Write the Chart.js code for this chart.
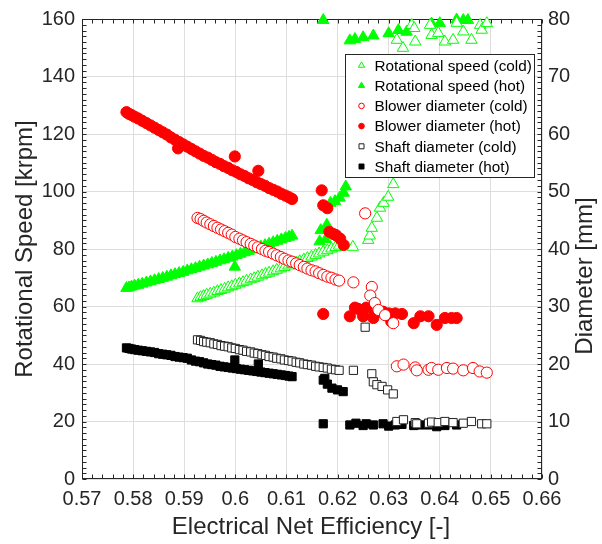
<!DOCTYPE html>
<html><head><meta charset="utf-8">
<script src="https://cdn.jsdelivr.net/npm/chart.js@4.4.1/dist/chart.umd.min.js"></script>
<style>html,body{margin:0;padding:0;background:#fff}#wrap{width:602px;height:544px;position:relative}</style>
</head><body><div id="wrap"><canvas id="c" width="602" height="544"></canvas></div>
<script>
// ---------- DATA ----------
// shared x of the main "hot" line (electrical net efficiency)
const hotLineX = [0.5787,0.5792,0.5797,0.5803,0.5810,0.5818,0.5826,0.5834,0.5842,0.5850,0.5858,0.5866,0.5874,0.5882,0.5890,0.5898,0.5906,0.5914,0.5922,0.5930,0.5938,0.5946,0.5954,0.5962,0.5970,0.5978,0.5986,0.5994,0.6002,0.6010,0.6018,0.6026,0.6034,0.6042,0.6050,0.6058,0.6066,0.6074,0.6082,0.6090,0.6098,0.6105,0.6111];
// shared x of the main "cold" line
const coldLineX = [0.5926,0.5932,0.5938,0.5944,0.5951,0.5958,0.5965,0.5972,0.5979,0.5986,0.5993,0.6000,0.6008,0.6015,0.6022,0.6030,0.6037,0.6044,0.6052,0.6059,0.6066,0.6074,0.6081,0.6089,0.6096,0.6104,0.6111,0.6119,0.6126,0.6134,0.6141,0.6149,0.6157,0.6164,0.6172,0.6180,0.6188,0.6196,0.6203];

// Rotational speed (cold) [krpm]
const speedColdLineY = [62.8,63.2,63.6,64.0,64.4,64.8,65.3,65.7,66.1,66.6,67.0,67.5,68.0,68.4,68.9,69.4,69.8,70.3,70.8,71.3,71.7,72.2,72.7,73.2,73.7,74.2,74.7,75.2,75.7,76.3,76.8,77.3,77.9,78.4,79.0,79.5,80.1,80.6,81.1];
const speedColdExtraX = [0.6230,0.6260,0.6263,0.6267,0.6277,0.6283,0.6290,0.6299,0.6309,0.6316,0.6328,0.6345,0.6350,0.6352,0.6381,0.6384,0.6397,0.6410,0.6426,0.6433,0.6446,0.6462,0.6479,0.6482,0.6492];
const speedColdExtraY = [80.7,83.1,84.6,87.3,90.8,94.3,96.0,98.1,102.5,152.7,149.9,157.9,156.8,152.1,157.9,154.4,155.1,152.1,152.7,158.6,155.6,152.7,157.9,156.2,158.5];

// Rotational speed (hot) [krpm]
const speedHotLineY = [66.4,66.6,66.9,67.2,67.5,67.9,68.3,68.7,69.1,69.5,69.9,70.3,70.8,71.2,71.6,72.0,72.5,72.9,73.3,73.8,74.2,74.6,75.1,75.5,76.0,76.4,76.9,77.3,77.8,78.3,78.8,79.3,79.8,80.3,80.8,81.3,81.8,82.3,82.8,83.3,83.8,84.2,84.6];
const speedHotExtraX = [0.5999,0.6165,0.6167,0.6177,0.6179,0.6186,0.6195,0.6204,0.6212,0.6216,0.6265,0.6172,0.6224,0.6234,0.6250,0.6270,0.6300,0.6319,0.6335,0.6384,0.6400,0.6433,0.6446,0.6455];
const speedHotExtraY = [73.8,82.6,86.5,83.4,88.4,96.0,96.6,97.8,99.5,101.7,56.8,159.6,152.5,153.0,153.6,154.2,155.0,156.1,155.5,158.4,158.5,159.8,159.6,159.6];

// Blower diameter (cold) [mm]
const blowerColdLineY = [45.4,45.2,44.9,44.6,44.3,44.0,43.7,43.4,43.1,42.8,42.5,42.1,41.8,41.5,41.2,40.9,40.6,40.3,40.0,39.7,39.5,39.2,38.9,38.6,38.3,38.0,37.8,37.5,37.2,36.9,36.6,36.3,36.1,35.8,35.5,35.2,35.0,34.7,34.5];
const blowerColdExtraX = [0.6231,0.6254,0.6267,0.6264,0.6273,0.6280,0.6293,0.6309,0.6316,0.6329,0.6352,0.6355,0.6378,0.6384,0.6397,0.6414,0.6426,0.6446,0.6465,0.6478,0.6492];
const blowerColdExtraY = [34.2,46.2,33.4,31.9,30.6,29.4,28.5,27.1,19.6,19.9,19.4,18.9,19.0,19.3,19.0,19.3,19.2,18.9,19.3,18.7,18.5];

// Blower diameter (hot) [mm]
const blowerHotLineY = [63.8,63.5,63.3,63.0,62.7,62.3,61.9,61.5,61.1,60.7,60.3,59.9,59.4,59.0,58.6,58.2,57.8,57.4,57.0,56.6,56.2,55.9,55.5,55.1,54.8,54.4,54.1,53.7,53.4,53.0,52.7,52.3,52.0,51.6,51.3,51.0,50.6,50.3,50.0,49.6,49.3,49.0,48.7];
const blowerHotExtraX = [0.5888,0.5999,0.6045,0.6169,0.6172,0.6180,0.6184,0.6192,0.6197,0.6205,0.6212,0.6172,0.6224,0.6234,0.6240,0.6250,0.6256,0.6270,0.6272,0.6289,0.6300,0.6305,0.6313,0.6326,0.6349,0.6362,0.6378,0.6394,0.6410,0.6423,0.6433];
const blowerHotExtraY = [57.5,56.1,53.6,50.2,47.6,47.1,43.0,42.6,42.4,41.8,40.7,28.7,28.3,29.8,29.6,28.3,29.8,28.0,28.6,29.1,28.8,27.4,28.8,28.7,27.1,28.3,28.3,26.8,28.0,28.0,28.0];

// Shaft diameter (cold) [mm]
const shaftColdLineY = [24.2,24.1,23.9,23.8,23.7,23.5,23.4,23.2,23.1,23.0,22.8,22.7,22.5,22.4,22.2,22.1,21.9,21.8,21.6,21.5,21.3,21.2,21.0,20.9,20.7,20.6,20.5,20.3,20.2,20.0,19.9,19.8,19.6,19.5,19.4,19.3,19.1,19.0,18.9];
const shaftColdExtraX = [0.6231,0.6254,0.6267,0.6270,0.6277,0.6287,0.6298,0.6309,0.6316,0.6329,0.6352,0.6355,0.6378,0.6384,0.6397,0.6410,0.6426,0.6446,0.6462,0.6482,0.6492];
const shaftColdExtraY = [18.9,26.4,18.3,16.9,16.4,16.1,15.5,14.8,10.0,10.3,9.8,9.6,9.7,9.9,9.8,10.0,9.8,9.7,10.0,9.6,9.6];

// Shaft diameter (hot) [mm]
const shaftHotLineY = [22.8,22.7,22.6,22.5,22.4,22.3,22.2,22.1,22.0,21.8,21.7,21.6,21.5,21.3,21.2,21.1,21.0,20.7,20.5,20.4,20.2,20.0,19.9,19.8,19.6,19.5,19.4,19.3,19.2,19.1,19.0,18.9,18.8,18.7,18.6,18.5,18.4,18.3,18.2,18.1,18.0,17.9,17.8];
const shaftHotExtraX = [0.5999,0.6045,0.6172,0.6175,0.6180,0.6189,0.6200,0.6211,0.6172,0.6224,0.6236,0.6250,0.6256,0.6270,0.6289,0.6300,0.6313,0.6326,0.6349,0.6362,0.6378,0.6394,0.6410,0.6433];
const shaftHotExtraY = [20.7,20.0,17.2,17.5,16.5,15.8,15.5,15.2,9.6,9.4,9.7,9.3,9.6,9.4,9.6,9.2,9.4,9.5,9.3,9.4,9.4,9.1,9.3,9.4];

// axes
const xMin = 0.57, xMax = 0.66, xStep = 0.01;
const yLeftMax = 160, yLeftStep = 20;
const yRightMax = 80, yRightStep = 10;
const seriesLabels = ['Rotational speed (cold)','Rotational speed (hot)','Blower diameter (cold)','Blower diameter (hot)','Shaft diameter (cold)','Shaft diameter (hot)'];
const xTitle = 'Electrical Net Efficiency [-]';
const yLeftTitle = 'Rotational Speed [krpm]';
const yRightTitle = 'Diameter [mm]';

// ---------- CHART ----------
const FONT = '"Liberation Sans", Arial, Helvetica, sans-serif';
const TXT = '#262626';
const GREEN = '#00ff00', RED = '#ff0000', BLACK = '#000000';
function pts(xs, ys){ return xs.map((x,i)=>({x:x, y:ys[i]})); }

const datasets = [
  {label:seriesLabels[0], data:pts(coldLineX.concat(speedColdExtraX), speedColdLineY.concat(speedColdExtraY)), yAxisID:'y',
   pointStyle:'triangle', pointRadius:6.6, backgroundColor:'#ffffff', borderColor:GREEN, pointBorderWidth:1, order:4},
  {label:seriesLabels[1], data:pts(hotLineX.concat(speedHotExtraX), speedHotLineY.concat(speedHotExtraY)), yAxisID:'y',
   pointStyle:'triangle', pointRadius:6.6, backgroundColor:GREEN, borderColor:GREEN, pointBorderWidth:1, order:5},
  {label:seriesLabels[2], data:pts(coldLineX.concat(blowerColdExtraX), blowerColdLineY.concat(blowerColdExtraY)), yAxisID:'y1',
   pointStyle:'circle', pointRadius:5.6, backgroundColor:'#ffffff', borderColor:RED, pointBorderWidth:1, order:2},
  {label:seriesLabels[3], data:pts(hotLineX.concat(blowerHotExtraX), blowerHotLineY.concat(blowerHotExtraY)), yAxisID:'y1',
   pointStyle:'circle', pointRadius:5.6, backgroundColor:RED, borderColor:RED, pointBorderWidth:1, order:3},
  {label:seriesLabels[4], data:pts(coldLineX.concat(shaftColdExtraX), shaftColdLineY.concat(shaftColdExtraY)), yAxisID:'y1',
   pointStyle:'rect', pointRadius:5.8, backgroundColor:'#ffffff', borderColor:'#222222', pointBorderWidth:1, order:0},
  {label:seriesLabels[5], data:pts(hotLineX.concat(shaftHotExtraX), shaftHotLineY.concat(shaftHotExtraY)), yAxisID:'y1',
   pointStyle:'rect', pointRadius:5.8, backgroundColor:BLACK, borderColor:BLACK, pointBorderWidth:1, order:1}
];
datasets.forEach(d=>{ d.showLine=false; d.clip=false; d.pointHoverRadius=d.pointRadius; });

const framePlugin = {
  id:'frame',
  beforeDatasetsDraw(chart){
    const {ctx, chartArea:ca, scales} = chart;
    const L = Math.round(ca.left)+0.5, R = Math.round(ca.right)-0.5, T = Math.round(ca.top)+0.5, B = Math.round(ca.bottom)-0.5;
    ctx.save();
    ctx.strokeStyle = TXT; ctx.lineWidth = 1;
    ctx.beginPath();
    const tl = 4;
    const nx = Math.round((xMax-xMin)/0.002);
    for (let k=0;k<=nx;k++){
      const px = Math.round(scales.x.getPixelForValue(xMin+k*0.002))+0.5;
      ctx.moveTo(px,B); ctx.lineTo(px,B-tl);
      ctx.moveTo(px,T); ctx.lineTo(px,T+tl);
    }
    for (let k=0;k<=yLeftMax/2;k++){
      const py = Math.round(scales.y.getPixelForValue(k*2))+0.5;
      ctx.moveTo(L,py); ctx.lineTo(L+tl,py);
    }
    for (let k=0;k<=yRightMax;k++){
      const py = Math.round(scales.y1.getPixelForValue(k))+0.5;
      ctx.moveTo(R,py); ctx.lineTo(R-tl,py);
    }
    ctx.stroke();
    ctx.strokeRect(L,T,R-L,B-T);
    ctx.restore();
  }
};

function legendMarker(ctx, style, x, y){
  ctx.beginPath();
  if (style==='triangle'){ const r=3.6; ctx.moveTo(x,y-r); ctx.lineTo(x+r*0.866,y+r/2); ctx.lineTo(x-r*0.866,y+r/2); ctx.closePath(); }
  else if (style==='circle'){ ctx.arc(x,y,2.8,0,Math.PI*2); }
  else { ctx.rect(x-2.5,y-2.5,5,5); }
  ctx.fill(); ctx.stroke();
}

const legendPlugin = {
  id:'boxLegend',
  afterDatasetsDraw(chart){
    const {ctx, chartArea:ca} = chart;
    const x0 = Math.round(ca.right-197)+0.5, y0 = Math.round(ca.top+35)+0.5, w = 189, h = 123;
    ctx.save();
    ctx.fillStyle = '#ffffff'; ctx.fillRect(x0,y0,w,h);
    ctx.strokeStyle = TXT; ctx.lineWidth = 1; ctx.strokeRect(x0,y0,w,h);
    ctx.font = '15.3px '+FONT; ctx.textBaseline = 'middle'; ctx.textAlign = 'left';
    chart.data.datasets.forEach((ds,i)=>{
      const cy = y0 + 11 + i*20.2;
      ctx.fillStyle = ds.backgroundColor; ctx.strokeStyle = ds.borderColor; ctx.lineWidth = 1;
      legendMarker(ctx, ds.pointStyle, x0+16, cy);
      ctx.fillStyle = '#000000';
      ctx.fillText(ds.label, x0+29, cy+1);
    });
    ctx.restore();
  }
};

const titlePlugin = {
  id:'titles',
  afterDraw(chart){
    const {ctx, chartArea:ca} = chart;
    ctx.save();
    ctx.fillStyle = TXT; ctx.font = '24px '+FONT; ctx.textAlign='center'; ctx.textBaseline='middle';
    ctx.fillText(xTitle, (ca.left+ca.right)/2 - 1, ca.bottom+48);
    ctx.save(); ctx.translate(ca.left-57,(ca.top+ca.bottom)/2); ctx.rotate(-Math.PI/2); ctx.fillText(yLeftTitle,0,0); ctx.restore();
    ctx.save(); ctx.translate(ca.right+43,(ca.top+ca.bottom)/2 + 27); ctx.rotate(-Math.PI/2); ctx.fillText(yRightTitle,0,0); ctx.restore();
    ctx.restore();
  }
};

const tickFont = {family:FONT, size:20};
new Chart(document.getElementById('c'), {
  type:'scatter',
  data:{datasets:datasets},
  options:{
    responsive:false, animation:false, devicePixelRatio:1,
    layout:{padding:{top:19,left:0,right:0,bottom:0}},
    plugins:{legend:{display:false}, tooltip:{enabled:false}},
    scales:{
      x:{type:'linear', position:'bottom', min:xMin, max:xMax,
         ticks:{stepSize:xStep, font:tickFont, color:TXT, padding:8, maxRotation:0, autoSkip:false,
                callback:v=>String(+(+v).toFixed(2))},
         grid:{color:'#dedede', lineWidth:1, drawTicks:false}, border:{display:false},
         afterFit:s=>{s.height=65;}},
      y:{type:'linear', position:'left', min:0, max:yLeftMax,
         ticks:{stepSize:yLeftStep, font:tickFont, color:TXT, padding:7},
         grid:{color:'#dedede', lineWidth:1, drawTicks:false}, border:{display:false},
         afterFit:s=>{s.width=82;}},
      y1:{type:'linear', position:'right', min:0, max:yRightMax,
         ticks:{stepSize:yRightStep, font:tickFont, color:TXT, padding:6},
         grid:{drawOnChartArea:false, drawTicks:false}, border:{display:false},
         afterFit:s=>{s.width=60;}}
    }
  },
  plugins:[framePlugin, legendPlugin, titlePlugin]
});
</script></body></html>
